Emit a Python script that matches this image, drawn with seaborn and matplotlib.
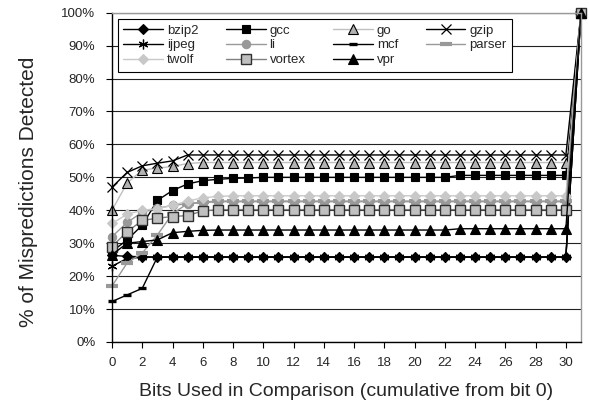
import matplotlib
matplotlib.use("Agg")
import matplotlib.pyplot as plt
import seaborn as sns
import pandas as pd

bits = list(range(32))

bzip2 = [26.3, 26.0, 25.9] + [25.8] * 28 + [100]
gcc = [27.5, 31.0, 35.5, 43.0, 46.0, 48.0, 49.0, 49.4, 49.7, 49.8] + [50.0] * 13 + [50.6] * 8 + [100]
go = [40.0, 48.3, 52.2, 52.8, 53.3, 54.2] + [54.5] * 25 + [100]
gzip = [47.0, 51.5, 53.5, 54.3, 55.0] + [56.8] * 26 + [100]
ijpeg = [23.0, 25.4, 25.7] + [25.8] * 28 + [100]
li = [32.0, 36.3, 39.4, 40.6, 41.5, 42.0, 42.3] + [42.6] * 24 + [100]
mcf = [12.3, 14.3, 16.3] + [25.8] * 28 + [100]
parser = [17.0, 24.0, 27.0, 32.5, 39.0, 42.0, 42.5] + [42.8] * 24 + [100]
twolf = [36.0, 38.8, 40.0, 40.5, 41.5, 42.8, 43.8, 44.2] + [44.4] * 23 + [100]
vortex = [29.0, 33.5, 36.9, 37.6, 38.1, 38.4, 39.8] + [40.2] * 24 + [100]
vpr = [26.5, 30.0, 30.5, 31.0, 33.2, 33.6, 33.9] + [34.0] * 16 + [34.4] * 8 + [100]

names = ["bzip2", "gcc", "go", "gzip", "ijpeg", "li", "mcf", "parser", "twolf", "vortex", "vpr"]
values = [bzip2, gcc, go, gzip, ijpeg, li, mcf, parser, twolf, vortex, vpr]

xticks = list(range(0, 31, 2))
yticks = list(range(0, 101, 10))
ytick_labels = [f"{v}%" for v in yticks]

df = pd.DataFrame({"bits": bits * len(names),
                   "pct": [v for vals in values for v in vals],
                   "bench": [n for n in names for _ in bits]})

sns.set_style("white")
plt.rcParams["font.family"] = ["Liberation Sans", "DejaVu Sans"]

styles = {
    "bzip2": dict(color="black", marker="D", mfc="black", mec="black", ms=5, mew=0.8),
    "gcc": dict(color="black", marker="s", mfc="black", mec="black", ms=6, mew=0.8),
    "go": dict(color="#c0c0c0", marker="^", mfc="#b2b2b2", mec="black", ms=7, mew=0.8),
    "gzip": dict(color="black", marker="x", mfc="black", mec="black", ms=7, mew=0.9),
    "ijpeg": dict(color="black", marker=(6, 2, 0), mfc="black", mec="black", ms=7, mew=0.9),
    "li": dict(color="#999999", marker="o", mfc="#999999", mec="#999999", ms=6, mew=0.8),
    "mcf": dict(color="black", marker="_", mfc="black", mec="black", ms=6, mew=2.4),
    "parser": dict(color="#999999", marker="_", mfc="#999999", mec="#999999", ms=9, mew=3.0),
    "twolf": dict(color="#c8c8c8", marker="D", mfc="#c8c8c8", mec="#c8c8c8", ms=5.5, mew=0.8),
    "vortex": dict(color="#808080", marker="s", mfc="#c0c0c0", mec="#303030", ms=6.5, mew=1.0),
    "vpr": dict(color="black", marker="^", mfc="black", mec="black", ms=7, mew=0.8),
}

fig = plt.figure(figsize=(5.89, 4.0), dpi=100)
ax = fig.add_axes([112 / 589, 1 - 342 / 400, (581 - 112) / 589, (342 - 12.7) / 400])

for n in names:
    sub = df[df["bench"] == n]
    st = styles[n]
    sns.lineplot(data=sub, x="bits", y="pct", ax=ax, label=n, lw=1.0,
                 color=st["color"], marker=st["marker"], markerfacecolor=st["mfc"],
                 markeredgecolor=st["mec"], markersize=st["ms"], markeredgewidth=st["mew"],
                 errorbar=None, sort=False, clip_on=False)

ax.set_xlim(0, 31)
ax.set_ylim(0, 100)
ax.set_xticks(xticks)
ax.set_xticklabels([str(t) for t in xticks], fontsize=9.5)
ax.set_yticks(yticks)
ax.set_yticklabels(ytick_labels, fontsize=9.5)
ax.tick_params(axis="both", direction="out", length=4, width=0.8, color="black",
               bottom=True, left=True)
ax.tick_params(axis="x", pad=6.5)
ax.tick_params(axis="y", pad=8)
ax.yaxis.grid(True, color="#222222", lw=0.8)
ax.set_axisbelow(True)
for s in ["left", "bottom"]:
    ax.spines[s].set_color("black")
    ax.spines[s].set_linewidth(1.0)
for s in ["top", "right"]:
    ax.spines[s].set_color("#999999")
    ax.spines[s].set_linewidth(1.0)

ax.set_xlabel("Bits Used in Comparison (cumulative from bit 0)", fontsize=14)
ax.set_ylabel("% of Mispredictions Detected", fontsize=15)
ax.xaxis.set_label_coords(0.5, -0.125)
ax.yaxis.set_label_coords(-0.158, 0.455)

handles, labels = ax.get_legend_handles_labels()
hmap = dict(zip(labels, handles))
leg_order = ["bzip2", "ijpeg", "twolf", "gcc", "li", "vortex", "go", "mcf", "vpr", "gzip", "parser"]
leg = ax.legend([hmap[k] for k in leg_order], leg_order, ncol=4, loc="upper left",
                bbox_to_anchor=(118 / 589, 1 - 19 / 400), bbox_transform=fig.transFigure,
                borderaxespad=0, fontsize=9.5, frameon=True, fancybox=False, framealpha=1,
                edgecolor="black", handlelength=3.0, handletextpad=0.3, columnspacing=2.1,
                labelspacing=0.2, borderpad=0.4)
leg.get_frame().set_linewidth(0.8)

fig.savefig("out.png", dpi=100)
